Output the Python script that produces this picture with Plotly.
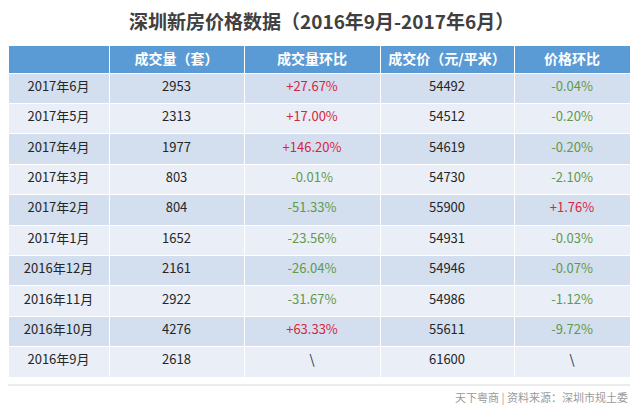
import plotly.graph_objects as go

months = ["2017年6月", "2017年5月", "2017年4月", "2017年3月", "2017年2月",
          "2017年1月", "2016年12月", "2016年11月", "2016年10月", "2016年9月"]
volume = [2953, 2313, 1977, 803, 804, 1652, 2161, 2922, 4276, 2618]
volume_chg = ["+27.67%", "+17.00%", "+146.20%", "-0.01%", "-51.33%",
              "-23.56%", "-26.04%", "-31.67%", "+63.33%", "\\"]
price = [54492, 54512, 54619, 54730, 55900, 54931, 54946, 54986, 55611, 61600]
price_chg = ["-0.04%", "-0.20%", "-0.20%", "-2.10%", "+1.76%",
             "-0.03%", "-0.07%", "-1.12%", "-9.72%", "\\"]
headers = ["", "成交量（套）", "成交量环比", "成交价（元/平米）", "价格环比"]

# the page body has an 8px margin, so the figure is drawn 8px in and 8px down
OFF = 8
W, H = 640 - OFF, 407 - OFF
RED = "#d7263d"
GREEN = "#5f9a4c"
DARK = "#262626"


def px_x(x):
    return (x - OFF) / W


def px_y(y):
    return 1 - (y - OFF) / H


def change_colors(vals):
    out = []
    for v in vals:
        if v.startswith("+"):
            out.append(RED)
        elif v.startswith("-"):
            out.append(GREEN)
        else:
            out.append(DARK)
    return out


row_fill = ["#d3deef" if i % 2 == 0 else "#e9eef7" for i in range(len(months))]

fig = go.Figure(go.Table(
    domain=dict(x=[px_x(8), px_x(630)], y=[0, px_y(45)]),
    columnwidth=[101, 135, 136, 134, 116],
    header=dict(
        values=headers,
        fill_color="#5b9bd5",
        line=dict(color="white", width=1),
        align="center",
        height=28,
        font=dict(family="Noto Sans CJK SC", size=14, color="white", weight="bold"),
    ),
    cells=dict(
        values=[months, volume, volume_chg, price, price_chg],
        fill_color=[row_fill] * 5,
        line=dict(color="white", width=1),
        align="center",
        height=30.4,
        font=dict(
            family="Noto Sans CJK SC", size=13,
            color=[[DARK] * 10, [DARK] * 10, change_colors(volume_chg),
                   [DARK] * 10, change_colors(price_chg)],
        ),
    ),
))

fig.add_annotation(
    text="<b>深圳新房价格数据（2016年9月-2017年6月）</b>",
    x=px_x(321), y=px_y(20), xref="paper", yref="paper", yanchor="middle",
    showarrow=False, font=dict(family="Noto Sans CJK SC", size=19, color="#404040"),
)
fig.add_shape(type="line", xref="paper", yref="paper",
              x0=px_x(8), x1=px_x(630), y0=px_y(385), y1=px_y(385),
              line=dict(color="#ececec", width=2))
fig.add_annotation(
    text="天下粤商 | 资料来源：深圳市规土委",
    x=px_x(630), y=px_y(397), xref="paper", yref="paper",
    xanchor="right", yanchor="middle",
    showarrow=False, font=dict(family="Noto Sans CJK SC", size=11, color="#9a9a9a"),
)

fig.update_layout(
    width=W, height=H,
    margin=dict(l=0, r=0, t=0, b=0),
    paper_bgcolor="white",
    plot_bgcolor="white",
)

fig.write_html("out.html")
